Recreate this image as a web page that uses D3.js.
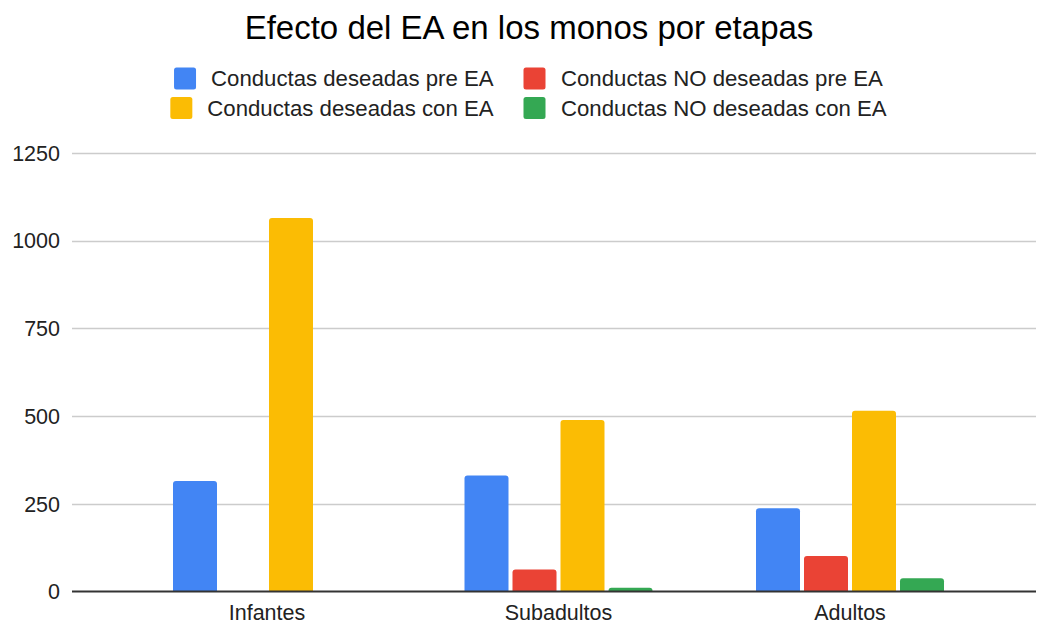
<!DOCTYPE html>
<html>
<head>
<meta charset="utf-8">
<script src="https://cdn.jsdelivr.net/npm/d3@7"></script>
<style>
  html, body { margin: 0; padding: 0; background: #fff; }
  text { font-family: "Liberation Sans", Arial, sans-serif; }
</style>
</head>
<body>
<svg id="chart" width="1037" height="625"></svg>
<script>
const title = "Efecto del EA en los monos por etapas";
const categories = ["Infantes", "Subadultos", "Adultos"];
const seriesNames = [
  "Conductas deseadas pre EA",
  "Conductas NO deseadas pre EA",
  "Conductas deseadas con EA",
  "Conductas NO deseadas con EA"
];
const seriesColors = ["#4285F4", "#EA4335", "#FBBC04", "#34A853"];
const deseadasPre   = [315, 331, 237];
const noDeseadasPre = [0, 63, 101];
const deseadasCon   = [1065, 489, 515];
const noDeseadasCon = [0, 11, 38];
const yTicks = [0, 250, 500, 750, 1000, 1250];

const seriesValues = [deseadasPre, noDeseadasPre, deseadasCon, noDeseadasCon];

const svg = d3.select("#chart");
const plot = { left: 72, right: 1036, top: 153, bottom: 591.5 };

const y = d3.scaleLinear().domain([0, 1250]).range([plot.bottom, plot.top]);
const x0 = d3.scaleBand().domain(categories).range([121.25, 995.75]).padding(0);
const x1 = d3.scaleBand().domain(d3.range(seriesNames.length)).range([-94, 94]).paddingInner(4 / 48).paddingOuter(0);

// Title
svg.append("text")
  .attr("x", 529).attr("y", 38.5)
  .attr("text-anchor", "middle")
  .attr("font-size", 33)
  .attr("fill", "#000")
  .text(title);

// Gridlines
svg.append("g").selectAll("line")
  .data(yTicks.filter(d => d !== 0))
  .join("line")
  .attr("x1", plot.left).attr("x2", plot.right)
  .attr("y1", d => Math.round(y(d)) + 0.5).attr("y2", d => Math.round(y(d)) + 0.5)
  .attr("stroke", "#cccccc").attr("stroke-width", 1.5);

// Y tick labels
svg.append("g").selectAll("text")
  .data(yTicks)
  .join("text")
  .attr("x", 60).attr("y", d => y(d))
  .attr("dy", "0.36em")
  .attr("text-anchor", "end")
  .attr("font-size", 21.5)
  .attr("fill", "#222")
  .text(d => d);

// Bars with rounded top corners
function barPath(x, yTop, w, yBase, r) {
  const h = yBase - yTop;
  if (h <= 0) return "";
  r = Math.min(r, h, w / 2);
  return `M${x},${yBase}V${yTop + r}Q${x},${yTop} ${x + r},${yTop}H${x + w - r}Q${x + w},${yTop} ${x + w},${yTop + r}V${yBase}Z`;
}

const groups = svg.append("g").selectAll("g")
  .data(categories)
  .join("g")
  .attr("transform", d => `translate(${x0(d) + x0.bandwidth() / 2},0)`);

groups.selectAll("path")
  .data((c, ci) => seriesValues.map((vals, si) => ({ si, v: vals[ci] })))
  .join("path")
  .attr("d", d => barPath(x1(d.si), y(d.v), x1.bandwidth(), y(0), 3))
  .attr("fill", d => seriesColors[d.si]);

// X axis line
svg.append("line")
  .attr("x1", plot.left).attr("x2", plot.right)
  .attr("y1", y(0)).attr("y2", y(0))
  .attr("stroke", "#333").attr("stroke-width", 2);

// X labels
svg.append("g").selectAll("text")
  .data(categories)
  .join("text")
  .attr("x", d => x0(d) + x0.bandwidth() / 2)
  .attr("y", 620)
  .attr("text-anchor", "middle")
  .attr("font-size", 21.5)
  .attr("fill", "#222")
  .text(d => d);

// Legend
const legendRows = [86, 115.5];
const legend = svg.append("g");
seriesNames.forEach((name, i) => {
  const col = i % 2;
  const row = Math.floor(i / 2);
  const yb = legendRows[row];
  const g = legend.append("g");
  const t = g.append("text")
    .attr("y", yb)
    .attr("font-size", 22.2)
    .attr("fill", "#222")
    .text(name);
  let textStart;
  if (col === 0) {
    t.attr("x", 493.5).attr("text-anchor", "end");
    textStart = 493.5 - t.node().getComputedTextLength();
  } else {
    t.attr("x", 561).attr("text-anchor", "start");
    textStart = 561;
  }
  const sx = col === 0 ? textStart - 15 - 22 : 523.5;
  g.append("rect")
    .attr("x", sx).attr("y", yb - 18.5)
    .attr("width", 22).attr("height", 22)
    .attr("rx", 2.5)
    .attr("fill", seriesColors[i]);
});
</script>
</body>
</html>
